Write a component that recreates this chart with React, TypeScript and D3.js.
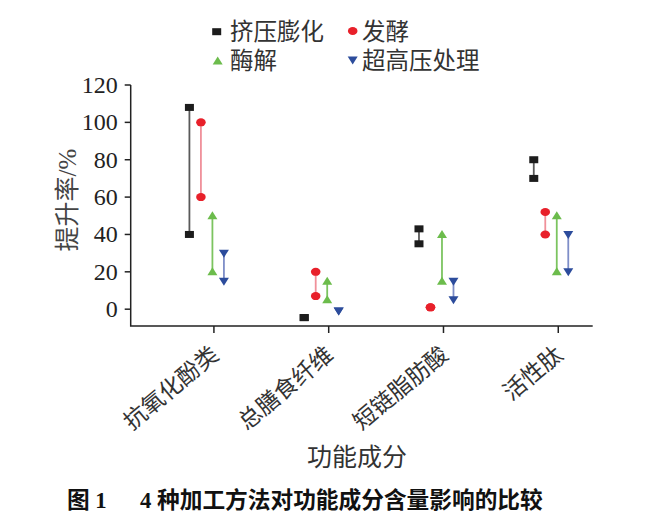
import React from 'react';
import * as d3 from 'd3';

const categories = ['抗氧化酚类', '总膳食纤维', '短链脂肪酸', '活性肽'];
const seriesNames = ['挤压膨化', '发酵', '酶解', '超高压处理'];

// low / high improvement rate (%) per category
const extrusionLow = [40, -4.5, 35, 70];
const extrusionHigh = [108, -4.5, 43, 80];
const fermentLow = [60, 7, 1, 40];
const fermentHigh = [100, 20, 1, 52];
const enzymeLow = [20, 5, 15, 20];
const enzymeHigh = [50, 15, 40, 50];
const hppLow = [15, -1, 5, 20];
const hppHigh = [30, -1, 15, 40];

const yTicks = [0, 20, 40, 60, 80, 100, 120];

const serif = '"Liberation Serif", "Noto Sans CJK SC", serif';

const markerColors = ['#1c1c1c', '#e8202a', '#6cbc4c', '#2c4c9c'];
const lineColors = ['#5a5a5a', '#f0909a', '#7cc460', '#7e8ec8'];
const offsets = [-24.5, -13, -1.5, 10];

const Marker: React.FC<{ kind: number; x: number; y: number }> = ({ kind, x, y }) => {
  const c = markerColors[kind];
  if (kind === 0) return <rect x={x - 4.5} y={y - 3.5} width={9} height={7} fill={c} />;
  if (kind === 1) return <ellipse cx={x} cy={y} rx={4.8} ry={4} fill={c} />;
  if (kind === 2)
    return <path d={`M${x},${y - 4.5}L${x + 5},${y + 3.5}L${x - 5},${y + 3.5}Z`} fill={c} />;
  return <path d={`M${x - 5},${y - 3.5}L${x + 5},${y - 3.5}L${x},${y + 4.5}Z`} fill={c} />;
};

const App: React.FC = () => {
  const x = d3.scaleLinear().domain([0.275, 4.3]).range([130.7, 592.7]);
  const y = d3.scaleLinear().domain([-9, 120]).range([326, 85]);

  const lows = [extrusionLow, fermentLow, enzymeLow, hppLow];
  const highs = [extrusionHigh, fermentHigh, enzymeHigh, hppHigh];

  const x0 = x.range()[0];
  const x1 = x.range()[1];
  const yb = y.range()[0];
  const yt = y.range()[1];

  return (
    <svg
      width={660}
      height={518}
      style={{ position: 'absolute', left: 0, top: 0, background: '#fff' }}
    >
      {/* legend */}
      <g fontFamily={serif} fontSize={23.5} fill="#333">
        <Marker kind={0} x={216.7} y={31.7} />
        <text x={230} y={39.5}>{seriesNames[0]}</text>
        <Marker kind={1} x={352.7} y={31} />
        <text x={362} y={39.5}>{seriesNames[1]}</text>
        <Marker kind={2} x={217.7} y={61} />
        <text x={230} y={68.5}>{seriesNames[2]}</text>
        <Marker kind={3} x={352.7} y={60} />
        <text x={362} y={68.5}>{seriesNames[3]}</text>
      </g>

      {/* axes */}
      <g stroke="#222" strokeWidth={1.5} fill="none">
        <path d={`M${x0},${yt}V${yb}H${x1}`} />
        {yTicks.map((t) => (
          <line key={t} x1={x0 - 6} x2={x0} y1={y(t)} y2={y(t)} />
        ))}
        {categories.map((_, i) => (
          <line key={i} x1={x(i + 1)} x2={x(i + 1)} y1={yb} y2={yb + 7} />
        ))}
      </g>
      <g fontFamily={serif} fontSize={24} fill="#222" textAnchor="end">
        {yTicks.map((t) => (
          <text key={t} x={x0 - 13} y={y(t) + 8}>
            {t}
          </text>
        ))}
      </g>
      <g fontFamily={serif} fontSize={23} fill="#333" textAnchor="end">
        {categories.map((c, i) => (
          <text key={c} transform={`translate(${x(i + 1) + 1},351) rotate(-40)`} dy="0.35em">
            {c}
          </text>
        ))}
      </g>
      <text
        x={357}
        y={466}
        textAnchor="middle"
        fontFamily={serif}
        fontSize={25}
        fill="#333"
      >
        功能成分
      </text>
      <text
        transform="translate(76,200) rotate(-90)"
        textAnchor="middle"
        fontFamily={serif}
        fontSize={25}
        fill="#444"
      >
        提升率/%
      </text>

      {/* range lines + markers */}
      {lows.map((lo, s) =>
        categories.map((_, i) => {
          const px = x(i + 1) + offsets[s];
          return (
            <g key={`${s}-${i}`}>
              {lo[i] !== highs[s][i] && (
                <line
                  x1={px}
                  x2={px}
                  y1={y(lo[i])}
                  y2={y(highs[s][i])}
                  stroke={lineColors[s]}
                  strokeWidth={1.8}
                />
              )}
              <Marker kind={s} x={px} y={y(highs[s][i])} />
              <Marker kind={s} x={px} y={y(lo[i])} />
            </g>
          );
        })
      )}

      {/* caption */}
      <g fontFamily={serif} fontSize={22.7} fontWeight="bold" fill="#111">
        <text x={67} y={508}>图 1</text>
        <text x={140} y={508}>4 种加工方法对功能成分含量影响的比较</text>
      </g>
    </svg>
  );
};

export default App;
